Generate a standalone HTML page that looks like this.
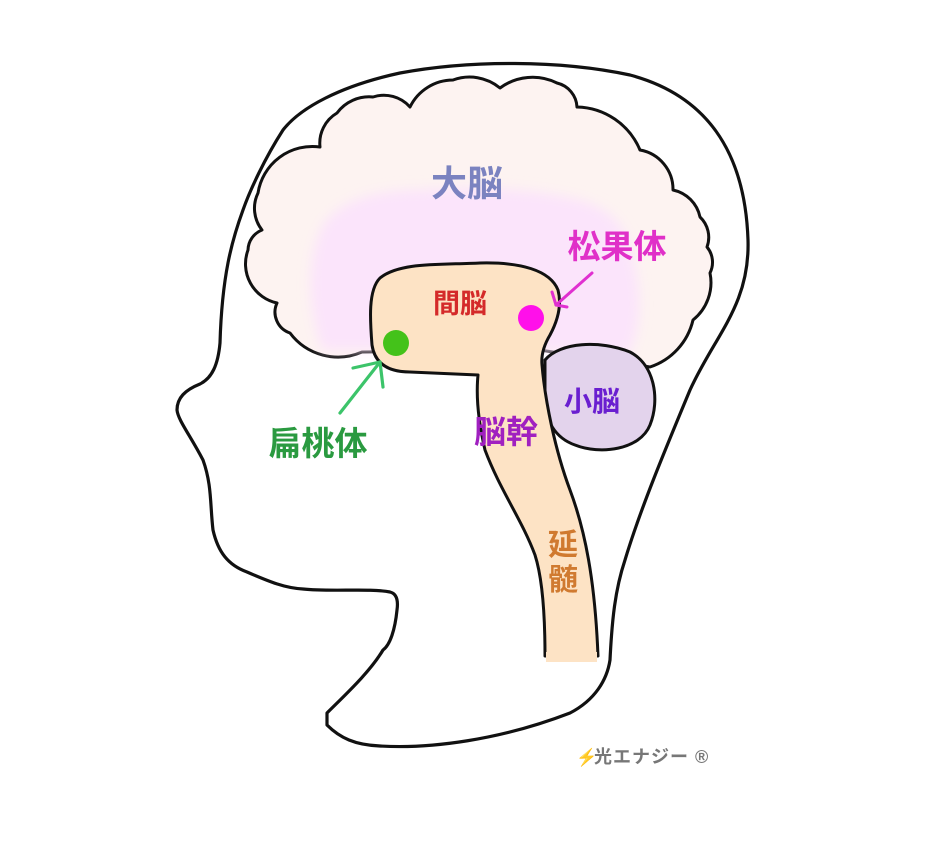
<!DOCTYPE html>
<html><head><meta charset="utf-8"><style>
html,body{margin:0;padding:0;background:#fff;width:950px;height:847px;overflow:hidden}
svg{display:block}
text{font-family:"Liberation Sans","Noto Sans CJK JP",sans-serif;font-weight:bold}
</style></head><body>
<svg width="950" height="847" viewBox="0 0 950 847" xmlns="http://www.w3.org/2000/svg">
<defs><filter id="bl"><feGaussianBlur stdDeviation="6"/></filter></defs>
<!-- head outline -->
<path d="M327,713 L327,725 C340,738 355,745 380,746 C430,749 500,740 570,713 C595,700 607,680 610,660 C612,620 615,590 625,560 C640,510 665,450 690,390 C715,335 750,305 748,240 C745,150 705,95 630,75 C560,60 470,60 400,73 C340,86 300,108 283,130 C265,158 250,190 243,210 C232,240 222,275 220,343 C218,365 212,378 200,384 C185,390 177,398 177,410 C178,420 190,435 203,460 C212,485 210,505 213,530 C218,552 228,565 247,572 C270,582 285,588 303,589 C330,592 370,588 390,592 C398,594 398,603 397,610 C395,630 390,645 383,650 C370,672 345,695 327,713 Z" fill="#fff" stroke="#111" stroke-width="3.2" stroke-linejoin="round"/>
<!-- cerebrum -->
<path d="M362,352 A60,60 0 0 1 290,333 A22,22 0 0 1 277,303 A40,40 0 0 1 248,250 A22,22 0 0 1 262,230 A35,35 0 0 1 258,193 A55,55 0 0 1 320,147 A35,35 0 0 1 337,113 A40,40 0 0 1 373,97 A35,35 0 0 1 410,107 A48,48 0 0 1 453,80 A48,48 0 0 1 500,88 A55,55 0 0 1 557,83 A26,26 0 0 1 577,107 A70,70 0 0 1 640,150 A40,40 0 0 1 673,190 A35,35 0 0 1 700,217 A28,28 0 0 1 707,247 A24,24 0 0 1 710,273 A48,48 0 0 1 693,320 A65,65 0 0 1 650,367 L540,350 Z" fill="#fdf3f1" stroke="#111" stroke-width="3" stroke-linejoin="round"/>
<!-- inner lavender -->
<path d="M322,350 C305,300 308,250 325,222 C345,198 380,190 420,190 C470,186 530,188 580,200 C615,210 628,230 633,260 C642,290 642,330 628,355 L540,350 Z" fill="#fbe4fb" filter="url(#bl)"/>
<!-- cerebellum -->
<path d="M545,360 C560,342 600,340 630,352 C655,365 660,400 650,425 C640,450 600,455 575,445 C555,438 545,420 545,400 Z" fill="#e3d3ec" stroke="#111" stroke-width="3"/>
<!-- diencephalon + brainstem -->
<path d="M545,656 C545,620 543,580 535,555 C522,520 500,490 485,450 C478,420 476,395 478,375 L410,372 C390,372 375,365 372,345 C370,320 368,290 380,278 C400,262 440,265 480,263 C520,262 550,270 558,290 C562,305 558,320 550,335 C544,345 541,355 542,365 C545,400 555,450 570,490 C585,530 595,580 598,656 Z" fill="#fde3c5" stroke="#111" stroke-width="3" stroke-linejoin="round"/>
<rect x="546" y="652" width="51" height="10" fill="#fde3c5"/>
<!-- dots -->
<circle cx="396" cy="343" r="13" fill="#44c21a"/>
<circle cx="531" cy="318" r="13" fill="#ff10ea"/>
<!-- arrows -->
<g stroke="#3cc46a" stroke-width="3.2" fill="none" stroke-linecap="round" stroke-linejoin="round">
<line x1="340" y1="413" x2="380" y2="362"/>
<polyline points="353,368 380,362 383,387"/>
</g>
<g stroke="#e030d0" stroke-width="3" fill="none" stroke-linecap="round" stroke-linejoin="round">
<line x1="592" y1="273" x2="556" y2="305"/>
<polyline points="552,292 556,305 567,307"/>
</g>
<!-- labels -->
<text x="467" y="196" font-size="36" fill="#7b83c0" text-anchor="middle">大脳</text>
<text x="617" y="258" font-size="33" fill="#e030c8" text-anchor="middle">松果体</text>
<text x="460" y="313" font-size="27" fill="#d42a2a" text-anchor="middle">間脳</text>
<text x="592" y="411" font-size="28" fill="#6a1fd0" text-anchor="middle">小脳</text>
<text x="506" y="443" font-size="32" fill="#a020c0" text-anchor="middle">脳幹</text>
<text x="318" y="455" font-size="33" fill="#2a9a40" text-anchor="middle">扁桃体</text>
<text x="563" y="555" font-size="30" fill="#d07a30" text-anchor="middle">延</text>
<text x="563" y="590" font-size="30" fill="#d07a30" text-anchor="middle">髄</text>
<text x="576" y="763" font-size="17" fill="#f0b020" font-weight="normal">⚡</text>
<text x="594" y="763" font-size="18" fill="#777" letter-spacing="1">光エナジー ®</text>
</svg>
</body></html>
